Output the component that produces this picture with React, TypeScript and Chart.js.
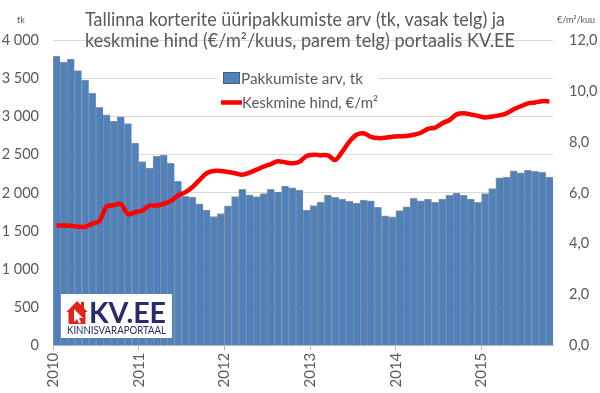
import React, { useEffect, useRef } from 'react';
import { Chart, registerables } from 'chart.js';

Chart.register(...registerables);

const yearLabels = ['2010', '2011', '2012', '2013', '2014', '2015'];
const yearTickMonths = [0, 12, 24, 36, 48, 60];

const offerCounts = [
  3790, 3710, 3750, 3600, 3475, 3305, 3120, 3020, 2940, 2995, 2905, 2650,
  2410, 2325, 2480, 2495, 2390, 2150, 1955, 1945, 1855, 1775, 1690, 1730,
  1830, 1950, 2045, 1975, 1950, 1990, 2045, 2010, 2090, 2065, 2035, 1775,
  1835, 1880, 1970, 1940, 1918, 1890, 1866, 1905, 1896, 1812, 1700, 1687,
  1767, 1818, 1927, 1894, 1918, 1877, 1920, 1967, 1997, 1971, 1918, 1877,
  1990, 2055, 2195, 2206, 2287, 2263, 2296, 2283, 2270, 2206,
];

const avgPrice = [
  4.71, 4.72, 4.71, 4.67, 4.67, 4.79, 4.89, 5.46, 5.51, 5.57, 5.16, 5.24,
  5.31, 5.5, 5.5, 5.57, 5.68, 5.9, 6.02, 6.22, 6.5, 6.77, 6.86, 6.86,
  6.82, 6.77, 6.71, 6.79, 6.91, 7.03, 7.13, 7.24, 7.2, 7.16, 7.22, 7.45,
  7.5, 7.48, 7.47, 7.29, 7.62, 8.01, 8.28, 8.34, 8.2, 8.15, 8.16, 8.2,
  8.22, 8.23, 8.28, 8.36, 8.51, 8.56, 8.73, 8.86, 9.08, 9.12, 9.08, 9.02,
  8.96, 9.0, 9.04, 9.12, 9.28, 9.4, 9.51, 9.55, 9.6, 9.59,
];

const titleLines = [
  'Tallinna korterite üüripakkumiste arv (tk, vasak telg) ja',
  'keskmine hind (€/m²/kuus, parem telg) portaalis KV.EE',
];
const seriesNames = ['Pakkumiste arv, tk', 'Keskmine hind, €/m²'];
const leftUnit = 'tk';
const rightUnit = '€/m²/kuu';
const logoText = 'KV.EE';
const logoSub = 'KINNISVARAPORTAAL';

const FONT = 'Lato, "Open Sans", sans-serif';
const GREY = '#595959';
const BLUE = '#4F81BD';
const RED = '#FF0000';
const NAVY = '#262D6A';

function fitText(
  ctx: CanvasRenderingContext2D,
  text: string,
  x: number,
  y: number,
  size: number,
  weight: string,
  width: number,
  align: CanvasTextAlign,
  color: string
) {
  ctx.save();
  ctx.font = `${weight} ${size}px ${FONT}`;
  const w = ctx.measureText(text).width;
  const k = width / w;
  ctx.translate(x, y);
  ctx.scale(k, 1);
  ctx.textAlign = align;
  ctx.textBaseline = 'alphabetic';
  ctx.fillStyle = color;
  ctx.fillText(text, 0, 0);
  ctx.restore();
}

const decorPlugin = {
  id: 'decor',
  afterDraw(chart: any) {
    const ctx: CanvasRenderingContext2D = chart.ctx;
    // title
    fitText(ctx, titleLines[0], 295, 26, 18.5, 'normal', 420, 'center', GREY);
    fitText(ctx, titleLines[1], 300, 46.5, 18.5, 'normal', 430, 'center', GREY);
    // unit labels
    ctx.save();
    ctx.fillStyle = GREY;
    ctx.font = `9px ${FONT}`;
    ctx.textAlign = 'center';
    ctx.textBaseline = 'middle';
    ctx.fillText(leftUnit, 21, 20);
    ctx.fillText(rightUnit, 576, 20);
    ctx.restore();

    // legend
    ctx.save();
    ctx.fillStyle = '#FFFFFF';
    ctx.fillRect(218, 64, 160, 48);
    ctx.fillStyle = BLUE;
    ctx.fillRect(223, 72, 17, 12);
    ctx.strokeStyle = 'rgba(70,70,70,0.6)';
    ctx.lineWidth = 1;
    ctx.strokeRect(223.5, 72.5, 16, 11);
    ctx.strokeStyle = RED;
    ctx.lineWidth = 4.5;
    ctx.beginPath();
    ctx.moveTo(221, 102.5);
    ctx.lineTo(242, 102.5);
    ctx.stroke();
    ctx.restore();
    fitText(ctx, seriesNames[0], 241, 83.5, 15.5, 'normal', 122, 'left', GREY);
    fitText(ctx, seriesNames[1], 242, 108, 15.5, 'normal', 136, 'left', GREY);

    // logo
    ctx.save();
    ctx.fillStyle = '#FFFFFF';
    ctx.fillRect(61, 294, 111, 44);
    ctx.fillStyle = '#E2231A';
    ctx.beginPath();
    ctx.moveTo(66.5, 312);
    ctx.lineTo(77, 301);
    ctx.lineTo(81, 305);
    ctx.lineTo(81, 302);
    ctx.lineTo(84, 302);
    ctx.lineTo(84, 308);
    ctx.lineTo(87.5, 312);
    ctx.lineTo(85.5, 312);
    ctx.lineTo(85.5, 324);
    ctx.lineTo(68.5, 324);
    ctx.lineTo(68.5, 312);
    ctx.closePath();
    ctx.fill();
    ctx.fillStyle = '#FFFFFF';
    ctx.beginPath();
    ctx.moveTo(74, 309);
    ctx.lineTo(74, 322);
    ctx.lineTo(77, 319);
    ctx.lineTo(79, 323.5);
    ctx.lineTo(81, 322.5);
    ctx.lineTo(79, 318);
    ctx.lineTo(83, 318);
    ctx.closePath();
    ctx.fill();
    ctx.restore();
    fitText(ctx, logoText, 89, 323, 28, 'bold', 77, 'left', NAVY);
    fitText(ctx, logoSub, 67, 334, 11, 'normal', 99, 'left', NAVY);
  },
};

function formatLeft(v: number) {
  if (v >= 1000) {
    const th = Math.floor(v / 1000);
    const rest = String(v % 1000).padStart(3, '0');
    return `${th} ${rest}`;
  }
  return String(v);
}

export default function App() {
  const canvasRef = useRef<HTMLCanvasElement | null>(null);

  useEffect(() => {
    document.body.style.margin = '0';
    const canvas = canvasRef.current;
    if (!canvas) return;

    const barPoints = offerCounts.map((v, i) => ({ x: i + 0.5, y: v }));
    const linePoints = avgPrice.map((v, i) => ({ x: i + 0.5, y: v }));
    const tickFont = { family: FONT, size: 14.5 };

    const chart = new Chart(canvas, {
      type: 'bar',
      data: {
        datasets: [
          {
            type: 'line',
            label: seriesNames[1],
            data: linePoints,
            yAxisID: 'y1',
            borderColor: RED,
            borderWidth: 4.5,
            pointRadius: 0,
            tension: 0.3,
            order: 1,
          } as any,
          {
            type: 'bar',
            label: seriesNames[0],
            data: barPoints,
            yAxisID: 'y',
            backgroundColor: BLUE,
            borderColor: 'rgba(60,60,60,0.55)',
            borderWidth: { top: 1, left: 1, right: 0, bottom: 0 },
            borderSkipped: 'bottom',
            barPercentage: 1,
            categoryPercentage: 1,
            order: 2,
          } as any,
        ],
      },
      options: {
        responsive: false,
        animation: false,
        devicePixelRatio: 1,
        layout: { padding: { top: 40, left: 0, right: 0, bottom: 0 } },
        plugins: {
          legend: { display: false },
          tooltip: { enabled: false },
          title: { display: false },
        },
        scales: {
          x: {
            type: 'linear',
            min: 0,
            max: 70,
            offset: false,
            afterBuildTicks: (scale: any) => {
              scale.ticks = yearTickMonths.map((v) => ({ value: v }));
            },
            afterFit: (scale: any) => {
              scale.height = 47.3;
              scale.paddingLeft = 0;
              scale.paddingRight = 0;
            },
            grid: {
              display: true,
              drawOnChartArea: false,
              drawTicks: true,
              tickLength: 5,
              color: '#BFBFBF',
              offset: false,
            },
            border: { display: true, color: '#BFBFBF' },
            ticks: {
              autoSkip: false,
              minRotation: 90,
              maxRotation: 90,
              padding: 2,
              color: GREY,
              font: { family: FONT, size: 15 },
              callback: (v: any) => {
                const idx = yearTickMonths.indexOf(Number(v));
                return idx >= 0 ? yearLabels[idx] : '';
              },
            },
          },
          y: {
            type: 'linear',
            position: 'left',
            min: 0,
            max: 4000,
            afterFit: (scale: any) => {
              scale.width = 53;
              scale.paddingTop = 0;
              scale.paddingBottom = 0;
            },
            grid: { color: '#D9D9D9', lineWidth: 1, drawTicks: false },
            border: { display: false },
            ticks: {
              stepSize: 500,
              padding: 14,
              color: GREY,
              font: tickFont,
              callback: (v: any) => formatLeft(Number(v)),
            },
          },
          y1: {
            type: 'linear',
            position: 'right',
            min: 0,
            max: 12,
            afterFit: (scale: any) => {
              scale.width = 47;
              scale.paddingTop = 0;
              scale.paddingBottom = 0;
            },
            grid: { display: false, drawTicks: false },
            border: { display: false },
            ticks: {
              stepSize: 2,
              padding: 16,
              color: GREY,
              font: tickFont,
              callback: (v: any) => Number(v).toFixed(1).replace('.', ','),
            },
          },
        },
      } as any,
      plugins: [decorPlugin],
    });

    return () => {
      chart.destroy();
    };
  }, []);

  return (
    <div style={{ width: 600, height: 393, position: 'relative', background: '#fff' }}>
      <canvas ref={canvasRef} width={600} height={393} />
    </div>
  );
}
